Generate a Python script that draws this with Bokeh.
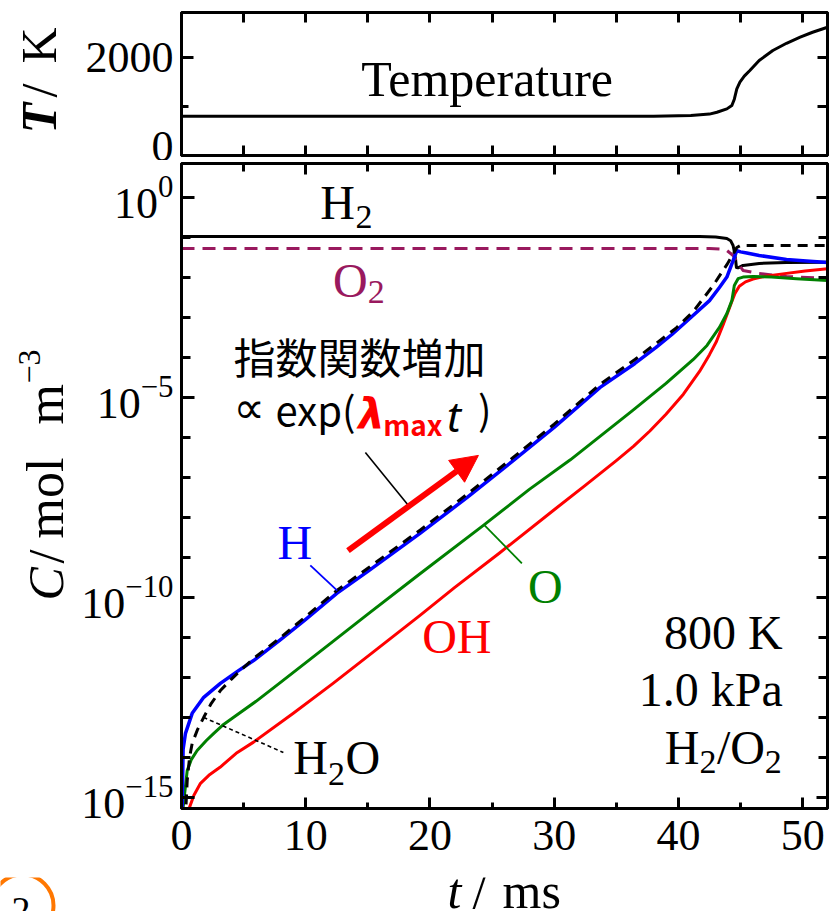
import math
from bokeh.plotting import figure
from bokeh.layouts import column, row
from bokeh.models import (Range1d, LinearAxis, LogAxis, FixedTicker, Label, Arrow, NormalHead,
                          BasicTickFormatter)
from bokeh.core.properties import value
from bokeh.embed import file_html
from bokeh.resources import INLINE

# ---------------- data ----------------
# temperature (top panel)
t_T = [0, 38, 41, 42.5, 43.1, 43.9, 44.3, 44.5, 44.7, 44.95, 45.3, 45.75, 46.5, 47.6, 48.7, 49.8, 50.8, 52.0]
T_K = [800, 803, 815, 845, 884, 952, 1020, 1150, 1360, 1500, 1620, 1735, 1940, 2143, 2292, 2415, 2517, 2619]

# concentrations, log10(C / mol m^-3)
t_H2 = [0, 40, 41.7, 43.0, 43.9, 44.2, 44.4, 44.5, 44.6, 44.67, 44.8, 45.2, 46.5, 48.7, 52.0]
lg_H2 = [-0.975, -0.975, -0.978, -0.99, -1.025, -1.08, -1.2, -1.35, -1.55, -1.75, -1.76, -1.70, -1.65, -1.625, -1.62]

t_O2 = [0, 42.5, 43.5, 43.9, 44.4, 44.8, 45.2, 46.5, 48.7, 52.0]
lg_O2 = [-1.275, -1.275, -1.29, -1.325, -1.45, -1.65, -1.825, -1.9, -1.975, -2.025]

t_H = [0.0, 0.05, 0.13, 0.32, 0.86, 1.79, 3.13, 4.5, 5.8, 8.0, 10.0, 12.5, 15.0, 19.2, 23.0, 26.7, 30.0,
       33.7, 36.5, 38.2, 39.5, 41.0, 42.5, 43.3, 43.9, 44.4, 44.7, 45.0, 45.5, 46.5, 48.7, 50.3, 52.0]
lg_H = [-16.0, -15.3, -13.8, -13.4, -12.9, -12.5, -12.15, -11.85, -11.58, -11.05, -10.55, -9.9, -9.35, -8.4,
        -7.5, -6.58, -5.75, -4.75, -4.15, -3.75, -3.42, -3.0, -2.58, -2.25, -1.99, -1.58, -1.33, -1.36,
        -1.39, -1.45, -1.55, -1.59, -1.625]

t_H2O = [0.3, 0.46, 0.65, 0.86, 1.3, 1.79, 2.4, 3.13, 4.0, 4.74, 5.8, 8.0, 10.0, 12.5, 15.0, 19.2, 23.0,
         26.7, 30.0, 33.7, 36.5, 38.2, 39.8, 41.2, 42.8, 43.9, 44.4, 44.7, 45.0, 48.0, 52.0]
lg_H2O = [-15.6, -14.58, -14.0, -13.65, -13.3, -13.0, -12.65, -12.33, -12.05, -11.83, -11.53, -11.0, -10.48,
          -9.83, -9.27, -8.32, -7.42, -6.5, -5.67, -4.67, -4.05, -3.65, -3.27, -2.85, -2.2, -1.68, -1.42,
          -1.25, -1.2, -1.2, -1.2]

t_O = [0.05, 0.13, 0.46, 0.8, 1.26, 2.0, 2.6, 3.3, 4.2, 6.0, 8.0, 12.2, 15.0, 19.2, 24.3, 28.0, 31.3, 36.3,
       39.0, 41.2, 42.3, 43.3, 43.9, 44.3, 44.5, 44.8, 45.2, 46.0, 47.5, 49.5, 52.0]
lg_O = [-16.0, -15.25, -14.33, -14.05, -13.83, -13.58, -13.4, -13.2, -13.0, -12.6, -12.12, -11.1, -10.42,
        -9.41, -8.2, -7.3, -6.56, -5.33, -4.65, -4.05, -3.7, -3.25, -2.9, -2.58, -2.2, -2.03, -1.99,
        -1.975, -1.99, -2.03, -2.075]

t_OH = [0.5, 0.59, 1.0, 1.53, 2.2, 3.1, 4.4, 5.8, 9.0, 12.2, 15.5, 19.2, 22.0, 25.6, 30.0, 32.5, 35.0, 36.4,
        37.7, 39.0, 40.4, 41.7, 42.5, 43.06, 43.6, 44.0, 44.3, 44.55, 44.9, 45.4, 46.0, 47.0, 48.4, 50.2, 52.0]
lg_OH = [-15.8, -15.3, -14.95, -14.65, -14.45, -14.25, -13.9, -13.62, -12.9, -12.15, -11.35, -10.45, -9.75,
         -8.89, -7.81, -7.2, -6.58, -6.22, -5.84, -5.42, -4.92, -4.35, -3.93, -3.6, -3.18, -2.85, -2.6,
         -2.4, -2.22, -2.11, -2.04, -1.97, -1.91, -1.84, -1.78]

x_ticks = [0, 10, 20, 30, 40, 50]
x_minor = [5, 15, 25, 35, 45]
T_ticks = [0, 2000]
T_minor = [1000]
C_ticks = [1e-15, 1e-10, 1e-5, 1e0]
C_minor = [10.0 ** k for k in range(-16, 2)]

# ---------------- styles ----------------
SERIF = "Liberation Serif"
SANS = "Noto Sans CJK JP"
PURPLE = "#99195E"
BLUE = "#0000FF"
GREEN = "#008000"
RED = "#FF0000"
ORANGE = "#FF7700"

PX_PER_DECADE = 40.0   # vertical size of one decade in the lower panel
PX_PER_KELVIN = 0.049  # vertical size of one kelvin in the upper panel
MID = 0.33             # distance baseline -> middle of capitals, in em


def C(lg):
    return [10.0 ** v for v in lg]


def style_axis(ax, labels=True, major_in=12, minor_in=7):
    ax.axis_line_width = 3
    ax.axis_line_color = "black"
    ax.major_tick_in = major_in
    ax.major_tick_out = 0
    ax.minor_tick_in = minor_in
    ax.minor_tick_out = 0
    ax.major_tick_line_width = 3
    ax.minor_tick_line_width = 3
    ax.major_label_text_font = SERIF
    ax.major_label_text_color = "black"
    if labels:
        ax.major_label_text_font_size = "44px"
    else:
        ax.formatter = BasicTickFormatter()
        ax.major_label_text_font_size = "0px"
        ax.major_label_standoff = 0
    ax.axis_label = None


def lab(p, x, y, text, size=48, color="black", font=SERIF, style="normal",
        align="left", angle=0.0):
    p.add_layout(Label(x=x, y=y, text=text, text_font=font, text_font_size=f"{size}px",
                       text_color=color, text_font_style=style, text_align=align,
                       text_baseline="middle", angle=angle))


def labC(t, lg_base, text, size=48, **kw):
    """label in the lower panel; lg_base = log10 C of the text baseline"""
    lab(pC, t, 10 ** (lg_base + MID * size / PX_PER_DECADE), text, size=size, **kw)


def blank_fig(w, h, xr, yr):
    f = figure(width=w, height=h, output_backend="svg", toolbar_location=None,
               x_range=xr, y_range=yr, x_axis_location=None, y_axis_location=None,
               min_border=0, min_border_left=0, min_border_right=0,
               min_border_top=0, min_border_bottom=0)
    f.grid.visible = False
    f.outline_line_color = None
    f.background_fill_color = "white"
    f.border_fill_color = "white"
    return f


# ---------------- left strip: rotated axis titles (page-pixel coordinates) ----------------
L = blank_fig(71, 877, Range1d(0, 71), Range1d(877, 0))
HALF_PI = math.pi / 2


def labL(base_x, y, text, size=50, **kw):
    lab(L, base_x - MID * size, y, text, size=size, angle=HALF_PI, **kw)


labL(55, 133, "T", style="bold italic")
labL(55, 97, "/")
labL(55, 63, "K")
labL(62, 600, "C", style="italic")
labL(62, 563, "/")
labL(62, 538, "mol", size=52)
labL(62, 424, "m", size=52)
labL(40, 383, "\u22123", size=32)

# ---------------- top panel: temperature ----------------
pT = figure(width=758, height=160, output_backend="svg", toolbar_location=None,
            x_range=Range1d(0, 52), y_range=Range1d(0, 2920),
            x_axis_location=None, y_axis_location=None,
            min_border_left=110, min_border_right=2, min_border_top=12, min_border_bottom=5)
pT.grid.visible = False
pT.outline_line_color = "black"
pT.outline_line_width = 3
pT.background_fill_color = "white"
pT.border_fill_color = "white"

for loc in ("below", "above"):
    ax = LinearAxis(ticker=FixedTicker(ticks=x_ticks + x_minor, minor_ticks=[]))
    style_axis(ax, labels=False, major_in=10)
    pT.add_layout(ax, loc)
axl = LinearAxis(ticker=FixedTicker(ticks=T_ticks, minor_ticks=T_minor))
style_axis(axl, labels=True)
axl.major_label_standoff = 8
pT.add_layout(axl, "left")
axr = LinearAxis(ticker=FixedTicker(ticks=T_ticks, minor_ticks=T_minor))
style_axis(axr, labels=False, major_in=10, minor_in=10)
pT.add_layout(axr, "right")

pT.line(t_T, T_K, line_color="black", line_width=3, line_join="round")
lab(pT, 24.6, 1224 + MID * 50 / PX_PER_KELVIN, "Temperature", size=50, align="center")

# ---------------- bottom panel: concentrations ----------------
pC = figure(width=758, height=717, output_backend="svg", toolbar_location=None,
            x_range=Range1d(0, 52), y_range=Range1d(10 ** -15.28, 10 ** 0.85),
            y_axis_type="log", x_axis_location=None, y_axis_location=None,
            min_border_left=110, min_border_right=2, min_border_top=3, min_border_bottom=69)
pC.grid.visible = False
pC.outline_line_color = "black"
pC.outline_line_width = 3
pC.background_fill_color = "white"
pC.border_fill_color = "white"

xb = LinearAxis(ticker=FixedTicker(ticks=x_ticks, minor_ticks=x_minor))
style_axis(xb, labels=True, major_in=11, minor_in=6)
xb.major_label_standoff = 12
pC.add_layout(xb, "below")
xa = LinearAxis(ticker=FixedTicker(ticks=x_ticks, minor_ticks=x_minor))
style_axis(xa, labels=False, major_in=11, minor_in=8)
pC.add_layout(xa, "above")
yl = LogAxis(ticker=FixedTicker(ticks=C_ticks, minor_ticks=C_minor))
style_axis(yl, labels=True, major_in=13, minor_in=9)
yl.major_label_standoff = 8
pC.add_layout(yl, "left")
yr = LogAxis(ticker=FixedTicker(ticks=C_ticks, minor_ticks=C_minor))
style_axis(yr, labels=False, major_in=11, minor_in=9)
pC.add_layout(yr, "right")

pC.line(t_H2, C(lg_H2), line_color="black", line_width=3, line_join="round")
pC.line(t_O2, C(lg_O2), line_color=PURPLE, line_width=3, line_dash="13 8", line_join="round")
pC.line(t_OH, C(lg_OH), line_color=RED, line_width=3, line_join="round")
pC.line(t_O, C(lg_O), line_color=GREEN, line_width=3, line_join="round")
pC.line(t_H, C(lg_H), line_color=BLUE, line_width=3.5, line_join="round")
pC.line(t_H2O, C(lg_H2O), line_color="black", line_width=3, line_dash="10 7", line_join="round")

# leader lines for the labels
leader_H = ([10.37, 12.54], [-9.2, -9.83])
leader_O = ([24.4, 27.4], [-8.2, -9.15])
leader_H2O = ([1.77, 8.2], [-13.0, -13.88])
leader_exp = ([14.8, 18.4], [-6.38, -7.75])
pC.line(leader_H[0], C(leader_H[1]), line_color=BLUE, line_width=1.8)
pC.line(leader_O[0], C(leader_O[1]), line_color=GREEN, line_width=1.8)
pC.line(leader_H2O[0], C(leader_H2O[1]), line_color="black", line_width=1.6, line_dash="4 3")
pC.line(leader_exp[0], C(leader_exp[1]), line_color="black", line_width=1.6)

# red arrow (exponential growth)
pC.add_layout(Arrow(x_start=13.4, y_start=10 ** -8.83, x_end=23.9, y_end=10 ** -6.45,
                    line_color=RED, line_width=6,
                    end=NormalHead(size=27, fill_color=RED, line_color=RED)))

# species labels (t of left edge, log10 C of baseline)
labC(11.17, -0.525, "H")
labC(14.0, -0.775, "2", size=34)
labC(12.2, -2.475, "O", color=PURPLE)
labC(15.0, -2.65, "2", size=34, color=PURPLE)
labC(7.72, -9.025, "H", color=BLUE)
labC(27.9, -10.125, "O", color=GREEN)
labC(19.37, -11.375, "OH", color=RED)
labC(9.0, -14.4, "H")
labC(11.8, -14.7, "2", size=34)
labC(13.2, -14.4, "O")

# conditions
labC(48.4, -11.275, "800 K", align="right")
labC(48.4, -12.7, "1.0 kPa", align="right")
labC(38.9, -14.15, "H")
labC(41.7, -14.4, "2", size=34)
labC(43.1, -14.15, "/O")
labC(46.95, -14.4, "2", size=34)

# Japanese annotation
lab(pC, 4.18, 10 ** -3.95, "指数関数増加", size=42, font=SANS)
labC(4.18, -5.62, "∝", size=44, font="DejaVu Sans")
labC(7.56, -5.62, "exp(", size=40, font=SANS)
labC(14.23, -5.775, "λ", size=42, font="DejaVu Sans", style="bold italic", color=RED)
labC(16.24, -5.9, "max", size=28, font=SANS, style="bold", color=RED)
labC(21.38, -5.8, "t", size=42, font="Noto Sans", style="italic")
labC(23.87, -5.6, ")", size=40, font=SANS)

# ---------------- bottom strip (full width): x-axis title, page-pixel coordinates ----------------
B = blank_fig(829, 34, Range1d(0, 829), Range1d(911, 877))
lab(B, 447, 907 - MID * 50, "t", size=50, style="italic")
lab(B, 472, 907 - MID * 50, "/", size=50)
lab(B, 502, 907 - MID * 50, "ms", size=50)
# cropped orange circled mark at the lower-left corner
B.scatter(x=[22], y=[905], size=62, marker="circle", fill_color=None,
          line_color=ORANGE, line_width=4)
B.text(x=[11], y=[897], text=["2"], text_font=value(SERIF), text_font_size="38px",
       text_color="black", text_baseline="top")

layout = column(row(L, column(pT, pC, spacing=0), spacing=0), B, spacing=0)
open("out.html", "w").write(file_html(layout, INLINE))
